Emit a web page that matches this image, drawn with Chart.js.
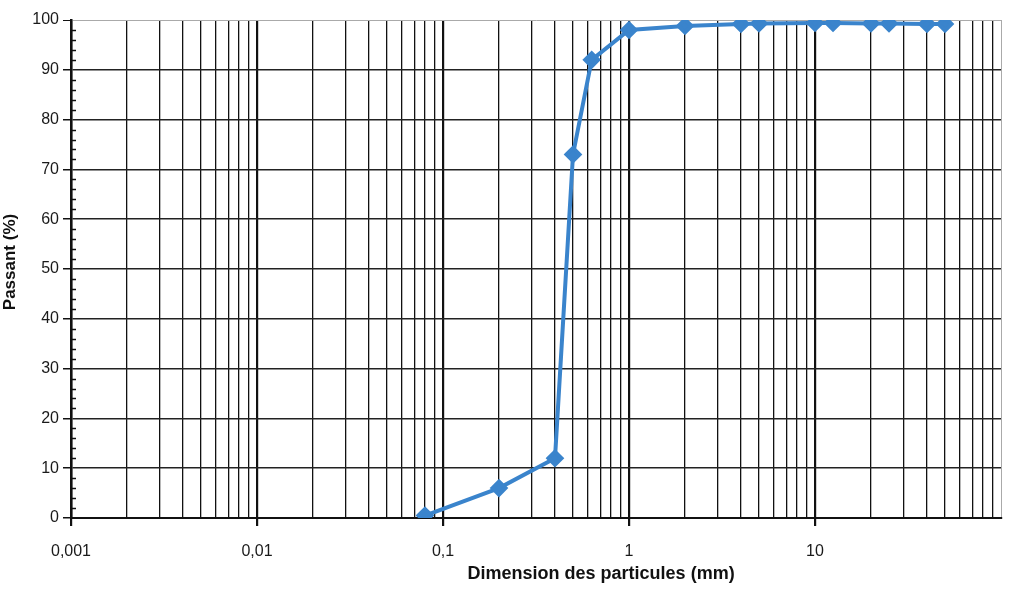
<!DOCTYPE html>
<html><head><meta charset="utf-8">
<script src="https://cdn.jsdelivr.net/npm/chart.js@4.4.0/dist/chart.umd.min.js"></script>
<style>html,body{margin:0;padding:0;background:#fff}#wrap{width:1017px;height:595px}</style>
</head>
<body><div id="wrap"><canvas id="c" width="1017" height="595"></canvas></div>
<script>
const sizes = [0.08, 0.2, 0.4, 0.5, 0.63, 1, 2, 4, 5, 10, 12.5, 20, 25, 40, 50];
const passing = [0.5, 6, 12, 73, 92, 98, 98.8, 99.2, 99.3, 99.4, 99.4, 99.3, 99.3, 99.2, 99.2];
const xTickValues = [0.001, 0.01, 0.1, 1, 10];
const xTickLabels = ['0,001', '0,01', '0,1', '1', '10'];
const xMin = 0.001, xMax = 100;
const yMin = 0, yMax = 100, yStep = 10, yMinorStep = 2;
const xTitle = 'Dimension des particules (mm)';
const yTitle = 'Passant (%)';

const FONT = '"Liberation Sans", Arial, sans-serif';
const isDecade = v => Math.abs(Math.log10(v) - Math.round(Math.log10(v))) < 1e-6;

const overlay = {
  id: 'overlay',
  afterDraw(chart) {
    const ctx = chart.ctx, ys = chart.scales.y, ca = chart.chartArea;
    ctx.save();
    ctx.strokeStyle = '#111';
    ctx.lineWidth = 1.5;
    for (let v = yMin + yMinorStep; v < yMax; v += yMinorStep) {
      if (v % yStep === 0) continue;
      const py = Math.round(ys.getPixelForValue(v)) + 0.5;
      ctx.beginPath(); ctx.moveTo(ca.left, py); ctx.lineTo(ca.left + 5, py); ctx.stroke();
    }
    ctx.fillStyle = '#111';
    ctx.font = 'bold 18px ' + FONT;
    ctx.textAlign = 'center'; ctx.textBaseline = 'middle';
    ctx.fillText(xTitle, ca.left + ca.width * 0.57, 574);
    ctx.translate(10, 262);
    ctx.rotate(-Math.PI / 2);
    ctx.font = 'bold 17px ' + FONT;
    ctx.fillText(yTitle, 0, 0);
    ctx.restore();
  }
};

new Chart(document.getElementById('c'), {
  type: 'line',
  data: {
    datasets: [{
      data: sizes.map((s, i) => ({ x: s, y: passing[i] })),
      borderColor: '#3a84cc',
      backgroundColor: '#3a84cc',
      borderWidth: 4,
      pointStyle: 'rectRot',
      pointRadius: 6.5,
      pointHoverRadius: 6.5,
      tension: 0,
      fill: false
    }]
  },
  options: {
    responsive: false,
    devicePixelRatio: 1,
    animation: false,
    layout: { padding: { top: 20, right: 14, left: 0, bottom: 0 } },
    plugins: { legend: { display: false }, tooltip: { enabled: false } },
    scales: {
      x: {
        type: 'logarithmic',
        min: xMin, max: xMax,
        afterBuildTicks(scale) {
          const t = [];
          for (let e = Math.log10(xMin); e < Math.log10(xMax); e++) {
            for (let k = 1; k <= 9; k++) t.push({ value: parseFloat((k * Math.pow(10, e)).toPrecision(3)) });
          }
          t.push({ value: xMax });
          scale.ticks = t;
        },
        afterFit(scale) { scale.height = 77; },
        ticks: {
          autoSkip: false, maxRotation: 0, minRotation: 0, padding: 16,
          color: '#1a1a1a', font: { family: FONT, size: 16 },
          callback(value) {
            const i = xTickValues.findIndex(v => Math.abs(v - value) / v < 1e-6);
            return i >= 0 ? xTickLabels[i] : '';
          }
        },
        grid: {
          color: c => (c.tick && c.tick.value >= xMax * 0.999) ? '#aaa' : '#111',
          lineWidth: c => {
            if (!c.tick) return 1;
            if (c.tick.value >= xMax * 0.999) return 1;
            return isDecade(c.tick.value) ? 2.2 : 1.3;
          },
          tickColor: c => (c.tick && isDecade(c.tick.value) && c.tick.value < xMax * 0.999) ? '#111' : 'rgba(0,0,0,0)',
          tickLength: 8
        },
        border: { display: true, color: '#111', width: 2 }
      },
      y: {
        min: yMin, max: yMax,
        afterFit(scale) { scale.width = 71; },
        ticks: { stepSize: yStep, padding: 4, color: '#1a1a1a', font: { family: FONT, size: 16 } },
        grid: {
          color: c => (c.tick && c.tick.value === yMax) ? '#aaa' : '#222',
          lineWidth: c => (c.tick && c.tick.value === yMax) ? 1 : 1.5,
          tickColor: '#111',
          tickLength: 8
        },
        border: { display: true, color: '#111', width: 2.5 }
      }
    }
  },
  plugins: [overlay]
});
</script>
</body></html>
